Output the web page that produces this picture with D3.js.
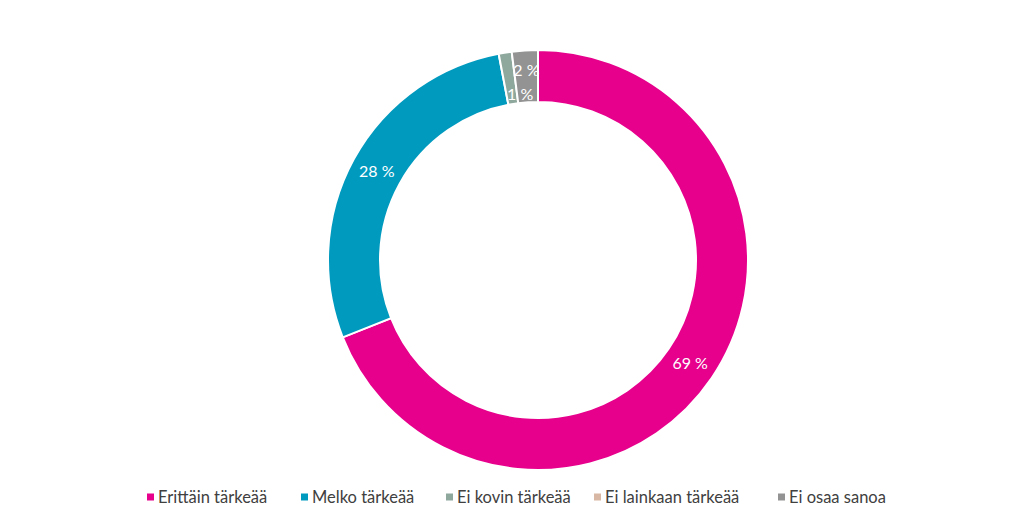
<!DOCTYPE html>
<html>
<head>
<meta charset="utf-8">
<script src="https://cdn.jsdelivr.net/npm/d3@7"></script>
<style>
  body { margin: 0; background: #fff; }
  svg { display: block; font-family: Lato, "Noto Sans", sans-serif; }
</style>
</head>
<body>
<svg id="chart" width="1024" height="522"></svg>
<script>
const CATEGORIES = ["Erittäin tärkeää", "Melko tärkeää", "Ei kovin tärkeää", "Ei lainkaan tärkeää", "Ei osaa sanoa"];
const VALUES = [69, 28, 1, 0, 2];
const LABELS = ["69 %", "28 %", "1 %", "", "2 %"];
const COLORS = ["#e6008c", "#009abf", "#8fa89e", "#d8b8a4", "#939393"];

const WIDTH = 1024;
const HEIGHT = 522;
const CX = 538;
const CY = 260;
const OUTER = 210;
const INNER = 158;

const svg = d3.select("#chart");

const color = d3.scaleOrdinal()
    .domain(CATEGORIES)
    .range(COLORS);

const pie = d3.pie()
    .sort(null)
    .value(d => d.value);

const arc = d3.arc()
    .innerRadius(INNER)
    .outerRadius(OUTER);

const labelArc = d3.arc()
    .innerRadius((INNER + OUTER) / 2)
    .outerRadius((INNER + OUTER) / 2);

const data = CATEGORIES.map((c, i) => ({ name: c, value: VALUES[i], label: LABELS[i] }));
const arcs = pie(data);

const g = svg.append("g")
    .attr("transform", `translate(${CX},${CY})`);

g.selectAll(".slice")
    .data(arcs.filter(d => d.value > 0))
    .enter()
    .append("path")
    .attr("class", "slice")
    .attr("d", arc)
    .attr("fill", d => color(d.data.name))
    .attr("stroke", "#fff")
    .attr("stroke-width", 2);

// small slices at the top get nudged apart, like the original
const nudge = { "1 %": [11, 16], "2 %": [0, -6] };

g.selectAll(".label")
    .data(arcs.filter(d => d.data.label))
    .enter()
    .append("text")
    .attr("class", "label")
    .attr("transform", d => {
        const [x, y] = labelArc.centroid(d);
        const n = nudge[d.data.label] || [0, 0];
        return `translate(${x + n[0]},${y + n[1]})`;
    })
    .attr("text-anchor", "middle")
    .attr("dy", "0.35em")
    .attr("fill", "#fff")
    .attr("font-size", 16)
    .text(d => d.data.label);

// legend
const legendX = [147, 301, 446, 594, 778];
const legend = svg.append("g")
    .attr("transform", "translate(0,497)");

const items = legend.selectAll(".item")
    .data(CATEGORIES)
    .enter()
    .append("g")
    .attr("class", "item")
    .attr("transform", (d, i) => `translate(${legendX[i]},0)`);

items.append("rect")
    .attr("x", 0)
    .attr("y", -3.5)
    .attr("width", 7)
    .attr("height", 7)
    .attr("fill", d => color(d));

items.append("text")
    .attr("x", 11)
    .attr("dy", "0.35em")
    .attr("fill", "#404040")
    .attr("font-size", 16.5)
    .text(d => d);
</script>
</body>
</html>
